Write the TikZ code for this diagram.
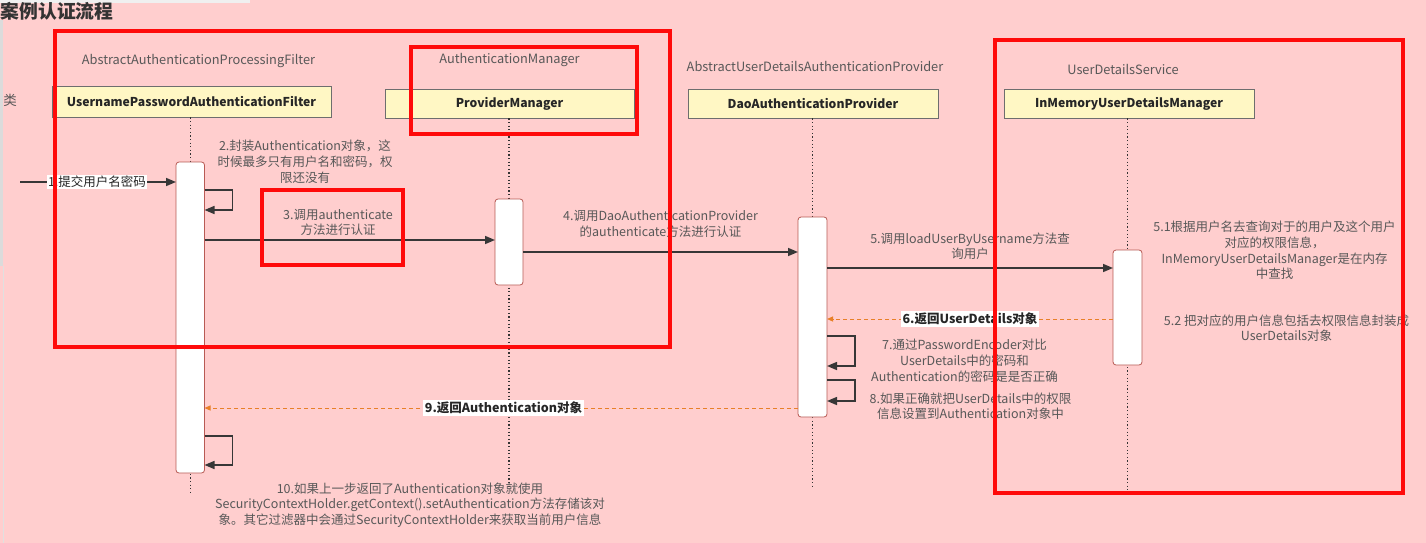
\documentclass[tikz,border=0pt]{standalone}
\usepackage{fontspec}
\setmainfont{Noto Sans CJK SC}
\usepackage{xcolor}
\usepackage{tikz}
\usetikzlibrary{arrows.meta, positioning, calc}
\definecolor{bgpink}{RGB}{255,206,206}
\definecolor{hdrfill}{RGB}{255,247,196}
\definecolor{hdrline}{RGB}{110,110,110}
\definecolor{actline}{RGB}{184,90,84}
\definecolor{txtgray}{RGB}{88,88,88}
\definecolor{arrgray}{RGB}{55,55,55}
\definecolor{retorange}{RGB}{232,128,40}
\definecolor{hlred}{RGB}{255,10,10}
\tikzset{
  hdr/.style  ={rectangle, draw=hdrline, fill=hdrfill, line width=0.8pt, inner sep=0pt,
                font=\fontsize{12.2}{14}\selectfont\bfseries, text=black!85},
  sup/.style  ={inner sep=0pt, font=\fontsize{12.8}{14}\selectfont, text=txtgray},
  act/.style  ={rectangle, rounded corners=3pt, draw=actline, fill=white, line width=0.8pt,
                inner sep=0pt, outer sep=0pt},
  life/.style ={black!80, line width=1.2pt, dash pattern=on 1.2pt off 2.4pt},
  lbl/.style  ={align=center, inner sep=0pt, text=txtgray,
                font=\fontsize{12.5}{15.8}\selectfont},
  tag/.style  ={fill=white, inner sep=1.5pt, text=black!85, font=\fontsize{12.5}{15}\selectfont},
  msg/.style  ={-{Triangle[length=10pt,width=8pt]}, draw=arrgray, line width=1.5pt},
  ret/.style  ={-{Triangle[length=6pt,width=5pt]}, draw=retorange, line width=1pt,
                dash pattern=on 4pt off 3pt},
  hl/.style   ={draw=hlred, line width=3.6pt},
}

\begin{document}
\begin{tikzpicture}[x=1pt, y=-1pt]
\useasboundingbox (0,0) rectangle (1426,543);
\fill[bgpink] (0,0) rectangle (1426,543);
\fill[black!6] (0,0) rectangle (250,3);
\fill[black!14] (0,20) rectangle (3,266);
\draw[black!12, line width=1pt] (3,266) -- (3,543);

\node[anchor=west, inner sep=0pt, text=black!80, font=\fontsize{18.8}{20}\selectfont\bfseries] (title) at (0.5,11.5) {案例认证流程};
\node[inner sep=0pt, text=txtgray, font=\fontsize{13.5}{14}\selectfont] (cls) at (10,100) {类};

\node[hdr, minimum width=279, minimum height=31] (hA) at (191.5,101.5) {UsernamePasswordAuthenticationFilter};
\node[hdr, minimum width=249, minimum height=29] (hB) at (509.5,103.5) {ProviderManager};
\node[hdr, minimum width=250, minimum height=29] (hC) at (813,103.5) {DaoAuthenticationProvider};
\node[hdr, minimum width=250, minimum height=29] (hD) at (1129,103.5) {InMemoryUserDetailsManager};

\node[sup, above=18pt of hA, xshift=7pt] (sA) {AbstractAuthenticationProcessingFilter};
\node[sup, above=22pt of hB] (sB) {AuthenticationManager};
\node[sup, above=17pt of hC, xshift=2pt] (sC) {AbstractUserDetailsAuthenticationProvider};
\node[sup, above=14pt of hD, xshift=-6pt] (sD) {UserDetailsService};

\coordinate (aAx) at (190.25,0);
\coordinate (aBx) at (509,0);
\coordinate (aCx) at (812.5,0);
\coordinate (aDx) at (1127.5,0);
\draw[life] (aAx |- hA.south) -- (aAx |- 0,492);
\draw[life] (aBx |- hB.south) -- (aBx |- 0,486);
\draw[life] (aCx |- hC.south) -- (aCx |- 0,488);
\draw[life] (aDx |- hD.south) -- (aDx |- 0,490);

\node[act, minimum width=28.5, minimum height=311] (aA) at (190.25,317.5) {};
\node[act, minimum width=28, minimum height=86] (aB) at (509,242) {};
\node[act, minimum width=29, minimum height=200] (aC) at (812.5,317) {};
\node[act, minimum width=29, minimum height=115] (aD) at (1127.5,307.5) {};

\coordinate (in1) at (20,182);
\draw[msg] (in1) -- (aA.west |- in1);
\node[tag] (t1) at (97,182) {1.提交用户名密码};

\draw[msg] (aA.east |- 0,190) -- ++(28,0) |- (aA.east |- 0,210);
\node[lbl] (l2) at (305,162) {2.封装Authentication对象，这\\时候最多只有用户名和密码，权\\限还没有};

\draw[msg] (aA.east |- 0,240) -- (aB.west |- 0,240);
\node[lbl, font=\fontsize{12.5}{15}\selectfont] (l3) at (338,222.5) {3.调用authenticate\\方法进行认证};

\draw[msg] (aB.east |- 0,252) -- (aC.west |- 0,252);
\node[lbl, font=\fontsize{12.5}{16}\selectfont] (l4) at (660.5,224) {4.调用DaoAuthenticationProvider\\的authenticate方法进行认证};

\draw[msg] (aC.east |- 0,268) -- (aD.west |- 0,268);
\node[lbl, font=\fontsize{12.5}{15}\selectfont] (l5) at (970,246.5) {5.调用loadUserByUsername方法查\\询用户};

\node[lbl] (l51) at (1274.5,250.5) {5.1根据用户名去查询对于的用户及这个用户\\对应的权限信息，\\InMemoryUserDetailsManager是在内存\\中查找};

\draw[ret] (aD.west |- 0,319) -- (aC.east |- 0,319);
\node[tag, font=\fontsize{12.5}{15}\selectfont\bfseries] (t6) at (970,319) {6.返回UserDetails对象};

\node[lbl, font=\fontsize{12.5}{15}\selectfont] (l52) at (1286.5,328.5) {5.2 把对应的用户信息包括去权限信息封装成\\UserDetails对象};

\draw[msg] (aC.east |- 0,336) -- ++(28,0) |- (aC.east |- 0,366);
\node[lbl] (l7) at (964.5,360.5) {7.通过PasswordEncoder对比\\UserDetails中的密码和\\Authentication的密码是是否正确};

\draw[msg] (aC.east |- 0,380) -- ++(28,0) |- (aC.east |- 0,401);
\node[lbl, font=\fontsize{12.5}{15}\selectfont] (l8) at (970.5,406.5) {8.如果正确就把UserDetails中的权限\\信息设置到Authentication对象中};

\draw[ret] (aC.west |- 0,408) -- (aA.east |- 0,408);
\node[tag, font=\fontsize{12.5}{15}\selectfont\bfseries] (t9) at (503.5,408) {9.返回Authentication对象};

\draw[msg] (aA.east |- 0,436) -- ++(28,0) |- (aA.east |- 0,465);
\node[lbl] (l10) at (410,505) {10.如果上一步返回了Authentication对象就使用\\SecurityContextHolder.getContext().setAuthentication方法存储该对\\象。其它过滤器中会通过SecurityContextHolder来获取当前用户信息};

\draw[hl] (55,31) rectangle (670,347);
\draw[hl] (411,47) rectangle (637,134);
\draw[hl] (262,190) rectangle (403,265);
\draw[hl] (995,40) rectangle (1403,493);
\end{tikzpicture}
\end{document}
